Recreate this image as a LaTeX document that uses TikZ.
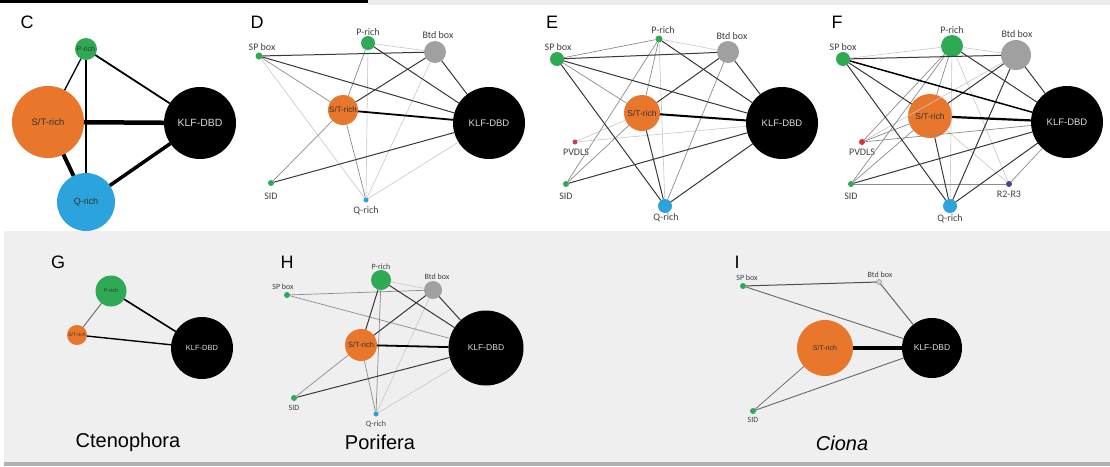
\documentclass[tikz,border=0pt]{standalone}
\usepackage{fontspec}
\setmainfont{Liberation Sans}
\newfontfamily\labf{Carlito}
\definecolor{grn}{HTML}{2EAA55}
\definecolor{orng}{HTML}{E8772C}
\definecolor{blu}{HTML}{2BA3DC}
\definecolor{gnode}{HTML}{A0A0A0}
\definecolor{redE}{HTML}{C8405A}
\definecolor{redF}{HTML}{D9352A}
\definecolor{purp}{HTML}{4B3F9E}
\definecolor{bgg}{HTML}{EFEFEF}
\definecolor{topg}{HTML}{EBEBEB}
\definecolor{lineg}{HTML}{B0B0B0}
\tikzset{
  nd/.style={circle, inner sep=0pt, outer sep=0pt, draw=none, minimum size=#1},
  intxt/.style={font=\fontsize{#1}{#1}\selectfont, text=black!80},
  wtxt/.style={font=\fontsize{#1}{#1}\selectfont, text=white!85!black},
  lab/.style={font=\labf\fontsize{#1}{#1}\selectfont, text=black!75, inner sep=0pt},
  ttl/.style={font=\fontsize{18}{18}\selectfont, inner sep=0pt},
  spec/.style={font=\fontsize{20}{20}\selectfont, inner sep=0pt},
  ea/.style={draw=black!22, line width=0.6pt},
  eb/.style={draw=black!45, line width=0.7pt},
  ec/.style={draw=black!78, line width=1pt},
  ed/.style={draw=black, line width=#1},
}
\begin{document}
\begin{tikzpicture}[x=1pt,y=-1pt]
\useasboundingbox (0,0) rectangle (1110,466);
\fill[white] (0,0) rectangle (1110,466);
\fill[topg] (368,0) rectangle (1110,5);
\fill[black] (0,0) rectangle (368,3);
\fill[bgg] (4,231) rectangle (1110,462);
\fill[lineg] (4,462) rectangle (1110,466);

% ---------- C ----------
\node[ttl] (tC) at (27,22) {C};
\node[nd=22pt, fill=grn, intxt=7] (Cp) at (86,49) {P-rich};
\node[nd=72pt, fill=orng, intxt=9.5] (Cst) at (48,122) {S/T-rich};
\node[nd=72pt, fill=black, wtxt=10.5] (Ck) at (200,123) {KLF-DBD};
\node[nd=58pt, fill=blu, intxt=9] (Cq) at (86,202) {Q-rich};
\draw[ed=1.3pt] (Cp) -- (Cst);
\draw[ed=1.3pt] (Cp) -- (Cq);
\draw[ed=1.8pt] (Cp) -- (Ck);
\draw[ed=4.5pt] (Cst) -- (Ck);
\draw[ed=4pt] (Cst) -- (Cq);
\draw[ed=3.5pt] (Cq) -- (Ck);

% ---------- D ----------
\node[ttl] (tD) at (257,22) {D};
\node[nd=7pt, fill=grn] (Dsp) at (259,56) {};
\node[nd=14pt, fill=grn] (Dp) at (368,43) {};
\node[nd=22pt, fill=gnode] (Db) at (435,52) {};
\node[nd=30pt, fill=orng, intxt=8] (Dst) at (343,110) {S/T-rich};
\node[nd=72pt, fill=black, wtxt=9.5] (Dk) at (489,123) {KLF-DBD};
\node[nd=6pt, fill=grn] (Dsid) at (271,183) {};
\node[nd=5pt, fill=blu] (Dq) at (366,200) {};
\node[lab=10] (lDsp) at (262,47) {SP box};
\node[lab=10] (lDp) at (368,32) {P-rich};
\node[lab=10] (lDb) at (438,35) {Btd box};
\node[lab=10] (lDsid) at (271,196) {SID};
\node[lab=10] (lDq) at (366,211) {Q-rich};
\draw[ea] (Dp) -- (Db);
\draw[ea] (Dp) -- (Dq);
\draw[ea] (Dsp) -- (Dq);
\draw[ea] (Db) -- (Dq);
\draw[ea] (Dq) -- (Dk);
\draw[eb] (Dsp) -- (Dst);
\draw[eb] (Dp) -- (Dst);
\draw[eb] (Dst) -- (Dsid);
\draw[eb] (Dst) -- (Dq);
\draw[ec] (Dsp) -- (Db);
\draw[ec] (Dsp) -- (Dk);
\draw[ec] (Dp) -- (Dk);
\draw[ec] (Db) -- (Dk);
\draw[ec] (Db) -- (Dst);
\draw[ec] (Dsid) -- (Dk);
\draw[ed=1.8pt] (Dst) -- (Dk);

% ---------- E ----------
\node[ttl] (tE) at (552,22) {E};
\node[nd=14pt, fill=grn] (Esp) at (557,59) {};
\node[nd=7pt, fill=grn] (Ep) at (659,39) {};
\node[nd=22pt, fill=gnode] (Eb) at (728,52) {};
\node[nd=36pt, fill=orng, intxt=8.5] (Est) at (642,113) {S/T-rich};
\node[nd=5pt, fill=redE] (Epv) at (575,142) {};
\node[nd=6pt, fill=grn] (Esid) at (566,184) {};
\node[nd=14pt, fill=blu] (Eq) at (665,206) {};
\node[nd=72pt, fill=black, wtxt=9.5] (Ek) at (782,123) {KLF-DBD};
\node[lab=10] (lEsp) at (558,47) {SP box};
\node[lab=10] (lEp) at (663,30) {P-rich};
\node[lab=10] (lEb) at (732,36) {Btd box};
\node[lab=10] (lEpv) at (576,152) {PVDLS};
\node[lab=10] (lEsid) at (566,196) {SID};
\node[lab=10] (lEq) at (666,218) {Q-rich};
\draw[ea] (Ep) -- (Eb);
\draw[ea] (Ep) -- (Eq);
\draw[ea] (Epv) -- (Est);
\draw[ea] (Epv) -- (Ek);
\draw[eb] (Esp) -- (Ep);
\draw[eb] (Esp) -- (Est);
\draw[eb] (Ep) -- (Est);
\draw[eb] (Ep) -- (Esid);
\draw[eb] (Est) -- (Esid);
\draw[eb] (Eb) -- (Eq);
\draw[ec] (Esp) -- (Eq);
\draw[ec] (Esp) -- (Eb);
\draw[ec] (Esp) -- (Ek);
\draw[ec] (Ep) -- (Ek);
\draw[ec] (Eb) -- (Est);
\draw[ec] (Eb) -- (Ek);
\draw[ec] (Est) -- (Eq);
\draw[ec] (Eq) -- (Ek);
\draw[ec] (Esid) -- (Ek);
\draw[ed=2pt] (Est) -- (Ek);

% ---------- F ----------
\node[ttl] (tF) at (837,22) {F};
\node[nd=14pt, fill=grn] (Fsp) at (843,59) {};
\node[nd=22pt, fill=grn] (Fp) at (952,46) {};
\node[nd=30pt, fill=gnode] (Fb) at (1016,55) {};
\node[nd=44pt, fill=orng, intxt=8.5] (Fst) at (930,116) {S/T-rich};
\node[nd=72pt, fill=black, wtxt=9.5] (Fk) at (1067,122) {KLF-DBD};
\node[nd=6pt, fill=redF] (Fpv) at (862,142) {};
\node[nd=6pt, fill=grn] (Fsid) at (851,184) {};
\node[nd=14pt, fill=blu] (Fq) at (950,206) {};
\node[nd=6pt, fill=purp] (Fr) at (1009,184) {};
\node[lab=10] (lFsp) at (843,47) {SP box};
\node[lab=10] (lFp) at (952,30) {P-rich};
\node[lab=10] (lFb) at (1017,34) {Btd box};
\node[lab=10] (lFpv) at (862,152) {PVDLS};
\node[lab=10] (lFsid) at (851,196) {SID};
\node[lab=10] (lFq) at (950,219) {Q-rich};
\node[lab=10] (lFr) at (1009,194) {R2-R3};
\draw[ea] (Fsp) -- (Fp);
\draw[ea] (Fp) -- (Fb);
\draw[ea] (Fp) -- (Fq);
\draw[ea] (Fp) -- (Fr);
\draw[ea] (Fst) -- (Fr);
\draw[ea] (Fpv) -- (Fb);
\draw[eb] (Fp) -- (Fst);
\draw[eb] (Fp) -- (Fsid);
\draw[eb] (Fp) -- (Fpv);
\draw[eb] (Fst) -- (Fsid);
\draw[eb] (Fpv) -- (Fst);
\draw[eb] (Fpv) -- (Fk);
\draw[eb] (Fsid) -- (Fr);
\draw[eb] (Fr) -- (Fk);
\draw[ec] (Fsp) -- (Fb);
\draw[ec] (Fsp) -- (Fst);
\draw[ec] (Fsp) -- (Fq);
\draw[ec] (Fp) -- (Fk);
\draw[ec] (Fb) -- (Fst);
\draw[ec] (Fb) -- (Fq);
\draw[ec] (Fb) -- (Fk);
\draw[ec] (Fst) -- (Fq);
\draw[ec] (Fsid) -- (Fk);
\draw[ec] (Fq) -- (Fk);
\draw[ed=1.5pt] (Fsp) -- (Fk);
\draw[ed=2.2pt] (Fst) -- (Fk);

% ---------- G ----------
\node[ttl] (tG) at (58,262) {G};
\node[nd=31pt, fill=grn, intxt=5.5] (Gp) at (111,291) {P-rich};
\node[nd=20pt, fill=orng, intxt=5] (Gst) at (77,335) {S/T-rich};
\node[nd=62pt, fill=black, wtxt=7.5] (Gk) at (202,348) {KLF-DBD};
\node[spec] (sG) at (128,442) {Ctenophora};
\draw[eb, line width=0.9pt, draw=black!60] (Gp) -- (Gst);
\draw[ed=1.6pt] (Gp) -- (Gk);
\draw[ed=1.4pt] (Gst) -- (Gk);

% ---------- H ----------
\node[ttl] (tH) at (287,262) {H};
\node[nd=20pt, fill=grn] (Hp) at (381,280) {};
\node[nd=18pt, fill=gnode] (Hb) at (433,290) {};
\node[nd=6pt, fill=grn] (Hsp) at (287,295) {};
\node[nd=32pt, fill=orng, intxt=7.5] (Hst) at (361,345) {S/T-rich};
\node[nd=75pt, fill=black, wtxt=8.5] (Hk) at (486,348) {KLF-DBD};
\node[nd=6pt, fill=grn] (Hsid) at (294,398) {};
\node[nd=5pt, fill=blu] (Hq) at (376,414) {};
\node[lab=8] (lHp) at (381,267) {P-rich};
\node[lab=8] (lHb) at (437,277) {Btd box};
\node[lab=8] (lHsp) at (283,287) {SP box};
\node[lab=8] (lHsid) at (294,408) {SID};
\node[lab=8] (lHq) at (376,424) {Q-rich};
\node[spec] (sH) at (380,442) {Porifera};
\draw[ea] (Hp) -- (Hb);
\draw[ea] (Hq) -- (Hk);
\draw[ea] (Hb) -- (Hq);
\draw[eb] (Hsp) -- (Hb);
\draw[eb] (Hsp) -- (Hk);
\draw[eb] (Hp) -- (Hq);
\draw[eb] (Hst) -- (Hsid);
\draw[eb] (Hst) -- (Hq);
\draw[ec] (Hp) -- (Hk);
\draw[ec] (Hp) -- (Hst);
\draw[ec] (Hb) -- (Hk);
\draw[ec] (Hb) -- (Hst);
\draw[ec] (Hsid) -- (Hk);
\draw[ed=1.8pt] (Hst) -- (Hk);

% ---------- I ----------
\node[ttl] (tI) at (737,262) {I};
\node[nd=6pt, fill=grn] (Isp) at (743,286) {};
\node[nd=5pt, fill=gnode!50, draw=gnode, line width=0.6pt] (Ib) at (879,282) {};
\node[nd=56pt, fill=orng, intxt=7] (Ist) at (825,348) {S/T-rich};
\node[nd=60pt, fill=black, wtxt=8.5] (Ik) at (932,348) {KLF-DBD};
\node[nd=6pt, fill=grn] (Isid) at (753,411) {};
\node[lab=8] (lIsp) at (747,278) {SP box};
\node[lab=8] (lIb) at (880,275) {Btd box};
\node[lab=8] (lIsid) at (753,420) {SID};
\node[spec, font=\fontsize{20}{20}\selectfont\itshape] (sI) at (842,443) {Ciona};
\draw[ec, draw=black!70] (Isp) -- (Ib);
\draw[ec, draw=black!60, line width=0.9pt] (Isp) -- (Ik);
\draw[ec, draw=black!60] (Ib) -- (Ik);
\draw[eb, draw=black!60] (Ist) -- (Isid);
\draw[eb, draw=black!60, line width=0.9pt] (Isid) -- (Ik);
\draw[ed=4pt] (Ist) -- (Ik);
\end{tikzpicture}
\end{document}
